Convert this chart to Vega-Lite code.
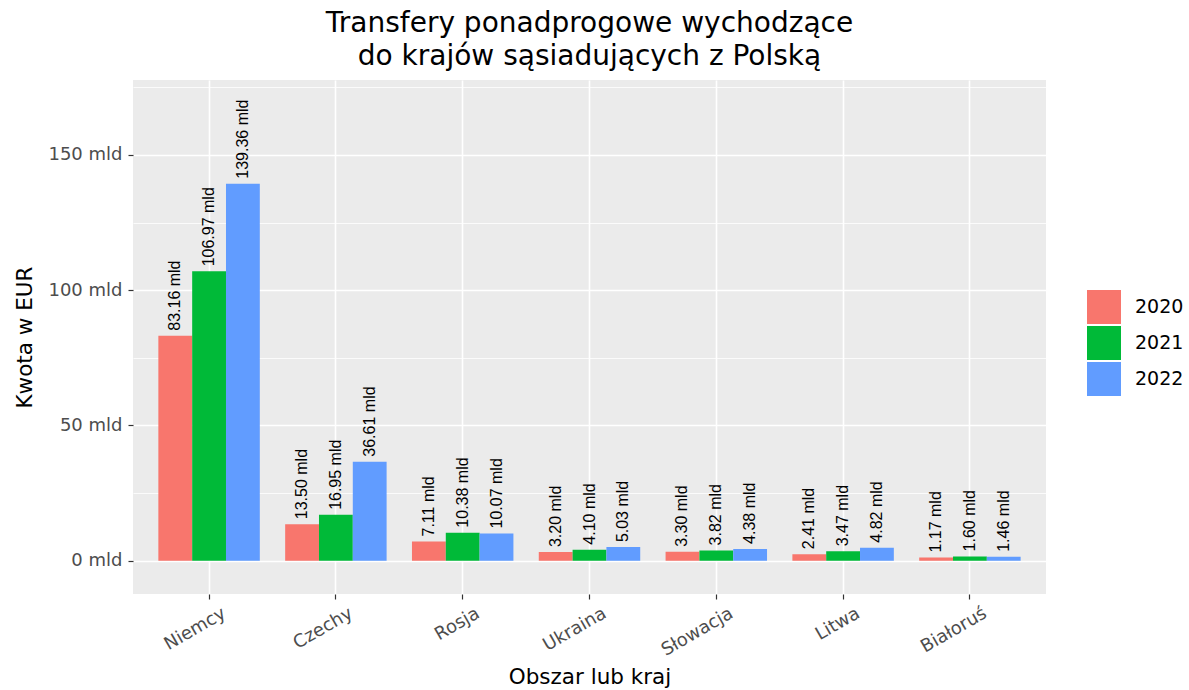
{
  "$schema": "https://vega.github.io/schema/vega-lite/v6.json",
  "width": 913,
  "height": 514,
  "autosize": {"type": "none"},
  "padding": {"left": 133, "top": 80, "right": 143, "bottom": 96},
  "background": "white",
  "title": {
    "text": ["Transfery ponadprogowe wychodzące", "do krajów sąsiadujących z Polską"],
    "anchor": "middle",
    "frame": "group",
    "font": "DejaVu Sans",
    "fontSize": 28,
    "fontWeight": "normal",
    "color": "#000000",
    "lineHeight": 33,
    "offset": 9
  },
  "data": {
    "values": [
      {"kraj": "Niemcy", "rok": "2020", "kwota": 83.16},
      {"kraj": "Niemcy", "rok": "2021", "kwota": 106.97},
      {"kraj": "Niemcy", "rok": "2022", "kwota": 139.36},
      {"kraj": "Czechy", "rok": "2020", "kwota": 13.50},
      {"kraj": "Czechy", "rok": "2021", "kwota": 16.95},
      {"kraj": "Czechy", "rok": "2022", "kwota": 36.61},
      {"kraj": "Rosja", "rok": "2020", "kwota": 7.11},
      {"kraj": "Rosja", "rok": "2021", "kwota": 10.38},
      {"kraj": "Rosja", "rok": "2022", "kwota": 10.07},
      {"kraj": "Ukraina", "rok": "2020", "kwota": 3.20},
      {"kraj": "Ukraina", "rok": "2021", "kwota": 4.10},
      {"kraj": "Ukraina", "rok": "2022", "kwota": 5.03},
      {"kraj": "Słowacja", "rok": "2020", "kwota": 3.30},
      {"kraj": "Słowacja", "rok": "2021", "kwota": 3.82},
      {"kraj": "Słowacja", "rok": "2022", "kwota": 4.38},
      {"kraj": "Litwa", "rok": "2020", "kwota": 2.41},
      {"kraj": "Litwa", "rok": "2021", "kwota": 3.47},
      {"kraj": "Litwa", "rok": "2022", "kwota": 4.82},
      {"kraj": "Białoruś", "rok": "2020", "kwota": 1.17},
      {"kraj": "Białoruś", "rok": "2021", "kwota": 1.60},
      {"kraj": "Białoruś", "rok": "2022", "kwota": 1.46}
    ]
  },
  "transform": [
    {"calculate": "format(datum.kwota, '.2f') + ' mld'", "as": "etykieta"}
  ],
  "encoding": {
    "x": {
      "field": "kraj",
      "type": "nominal",
      "sort": ["Niemcy", "Czechy", "Rosja", "Ukraina", "Słowacja", "Litwa", "Białoruś"],
      "scale": {"paddingInner": 0.2, "paddingOuter": 0.2},
      "title": "Obszar lub kraj",
      "axis": {
        "bandPosition": 0.5,
        "labelAngle": -30,
        "labelAlign": "right",
        "labelBaseline": "top",
        "labelFont": "DejaVu Sans",
        "labelFontSize": 18,
        "labelColor": "#4D4D4D",
        "labelPadding": 5,
        "labelOffset": 11,
        "tickColor": "#333333",
        "tickSize": 5,
        "tickWidth": 1.2,
        "domain": false,
        "grid": true,
        "gridColor": "#FFFFFF",
        "gridWidth": 1.6,
        "titleFont": "DejaVu Sans",
        "titleFontSize": 21.5,
        "titleFontWeight": "normal",
        "titleColor": "#000000",
        "titlePadding": 7
      }
    },
    "xOffset": {"field": "rok", "type": "nominal"},
    "y": {
      "field": "kwota",
      "type": "quantitative",
      "scale": {"domain": [-12.3, 177.7], "nice": false, "zero": false},
      "title": "Kwota w EUR",
      "axis": {
        "values": [0, 25, 50, 75, 100, 125, 150, 175],
        "labelExpr": "datum.value % 50 === 0 ? datum.value + ' mld' : ''",
        "labelFont": "DejaVu Sans",
        "labelFontSize": 18,
        "labelColor": "#4D4D4D",
        "labelPadding": 6,
        "tickColor": "#333333",
        "tickSize": 5,
        "tickWidth": 1.2,
        "tickOpacity": {"condition": {"test": "datum.value % 50 === 0", "value": 1}, "value": 0},
        "domain": false,
        "grid": true,
        "gridColor": "#FFFFFF",
        "gridWidth": {"condition": {"test": "datum.value % 50 === 0", "value": 1.6}, "value": 0.8},
        "titleFont": "DejaVu Sans",
        "titleFontSize": 21.5,
        "titleFontWeight": "normal",
        "titleColor": "#000000",
        "titlePadding": 11
      }
    }
  },
  "layer": [
    {
      "mark": {"type": "bar"},
      "encoding": {
        "color": {
          "field": "rok",
          "type": "nominal",
          "scale": {"domain": ["2020", "2021", "2022"], "range": ["#F8766D", "#00BA38", "#619CFF"]},
          "legend": {
            "title": null,
            "orient": "none",
            "legendX": 954,
            "legendY": 210,
            "padding": 0,
            "symbolType": "square",
            "symbolSize": 1156,
            "symbolStrokeWidth": 0,
            "symbolOpacity": 1,
            "labelFont": "DejaVu Sans",
            "labelFontSize": 19,
            "labelColor": "#000000",
            "labelOffset": 14,
            "rowPadding": 2
          }
        }
      }
    },
    {
      "mark": {
        "type": "text",
        "angle": 270,
        "align": "left",
        "baseline": "middle",
        "dx": 5,
        "font": "Liberation Sans",
        "fontSize": 16,
        "color": "#000000"
      },
      "encoding": {"text": {"field": "etykieta", "type": "nominal"}}
    }
  ],
  "config": {
    "view": {"fill": "#EBEBEB", "stroke": null}
  }
}
